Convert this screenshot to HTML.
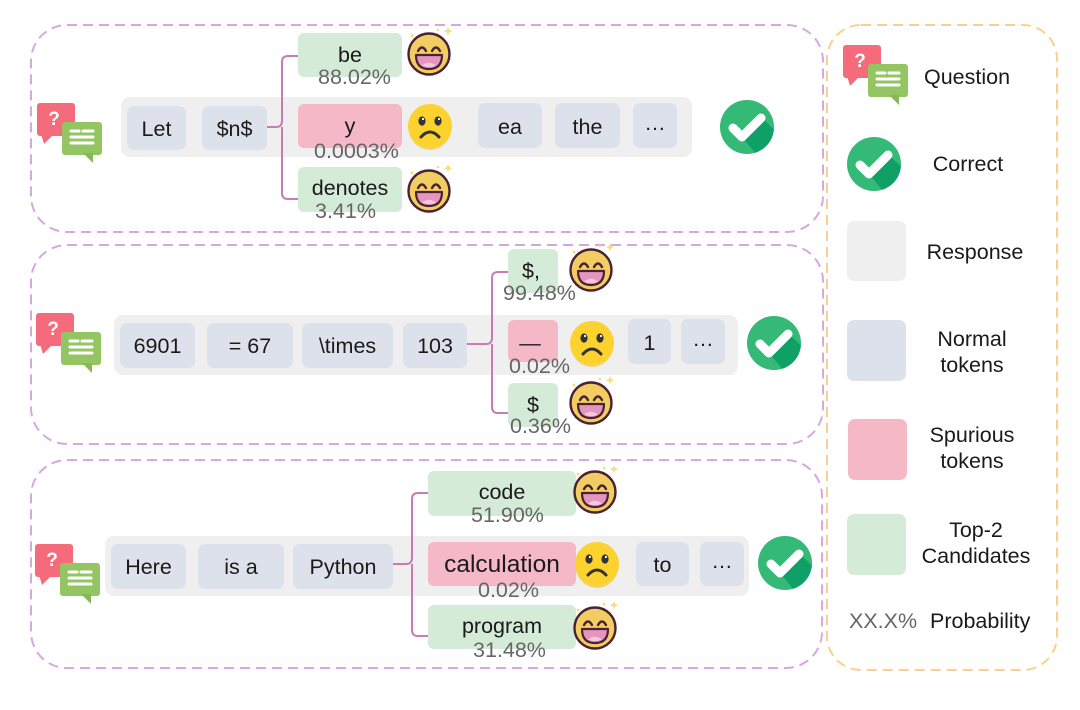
<!DOCTYPE html>
<html><head><meta charset="utf-8"><style>
html,body{margin:0;padding:0;background:#fff;}
svg{display:block;}
text{font-family:"Liberation Sans",Arial,sans-serif;}
.tk{font-size:21.5px;fill:#1a1a1a;text-anchor:middle;}
.pc{font-size:21.5px;fill:#666;}
.lg{font-size:21.5px;fill:#1a1a1a;text-anchor:middle;}
</style></head><body>
<svg width="1080" height="710" viewBox="0 0 1080 710" xmlns="http://www.w3.org/2000/svg">
<defs>
  <g id="happy">
    <path d="M19,-27 l1.2,3 3,1.2 -3,1.2 -1.2,3 -1.2,-3 -3,-1.2 3,-1.2z" fill="#f6dc7a"/>
    <circle cx="-17" cy="-18" r="1.5" fill="#f6dc7a"/>
    <circle cx="9" cy="-24" r="1.3" fill="#f6dc7a"/>
    <circle cx="0" cy="0" r="20.5" fill="#f1cd62" stroke="#4a2233" stroke-width="2.4"/>
    <path d="M-11,-3 Q-7,-10 -3,-3 M3,-3 Q7,-10 11,-3" fill="none" stroke="#4a2233" stroke-width="2.4" stroke-linecap="round"/>
    <path d="M-13,1 H13 Q13,15 0,15 Q-13,15 -13,1 Z" fill="#e596c0" stroke="#4a2233" stroke-width="2.2" stroke-linejoin="round"/>
    <path d="M-7,11.5 Q0,6 7,11.5 Q0,15 -7,11.5Z" fill="#f6c6dc"/>
  </g>
  <g id="sad">
    <circle cx="0" cy="0" r="22" fill="#fcd22f"/>
    <path d="M-22,0 A22,22 0 0 0 22,0 A22,24 0 0 1 -22,0Z" fill="#f2c21e" opacity="0.6"/>
    <ellipse cx="-8" cy="-5" rx="3.6" ry="4.6" fill="#333"/>
    <ellipse cx="8" cy="-5" rx="3.6" ry="4.6" fill="#333"/>
    <circle cx="-7" cy="-7" r="1.1" fill="#fff"/>
    <circle cx="9" cy="-7" r="1.1" fill="#fff"/>
    <path d="M-9,11 Q0,1 9,11" fill="none" stroke="#333" stroke-width="3" stroke-linecap="round"/>
  </g>
  <clipPath id="cc"><circle cx="0" cy="0" r="27"/></clipPath>
  <g id="check">
    <circle cx="0" cy="0" r="27" fill="#35b977"/>
    <polygon points="-5,10 15,-9 45,20 20,40" fill="#0fa068" clip-path="url(#cc)"/>
    <polyline points="-14,1 -5,10 14,-9" fill="none" stroke="#fff" stroke-width="9" stroke-linecap="round" stroke-linejoin="round"/>
  </g>
  <g id="qicon">
    <rect x="0" y="0" width="38" height="33" rx="3" fill="#f66b7b"/>
    <polygon points="4,31 7,41 17,31" fill="#f66b7b"/>
    <text x="17" y="22" font-size="19" font-weight="bold" fill="#fff" text-anchor="middle">?</text>
    <rect x="25" y="19" width="40" height="33" rx="3" fill="#93c563"/>
    <polygon points="46,50 56,60 56,50" fill="#86b857"/>
    <path d="M34,28 H42 M46,28 H56 M34,34 H56 M34,40 H56" stroke="#fff" stroke-width="3" stroke-linecap="round"/>
  </g>
</defs>

<!-- panels -->
<g fill="none" stroke="#d6a8df" stroke-width="2" stroke-dasharray="10 6">
  <rect x="31" y="25" width="792" height="207" rx="36"/>
  <rect x="31" y="245" width="792" height="199" rx="36"/>
  <rect x="31" y="460" width="791" height="208" rx="36"/>
</g>
<rect x="827" y="25" width="230" height="645" rx="34" fill="none" stroke="#fbd08b" stroke-width="2" stroke-dasharray="10 6"/>

<!-- ================= Panel 1 ================= -->
<use href="#qicon" x="37" y="103"/>
<rect x="121" y="97" width="571" height="60" rx="9" fill="#efefef"/>
<rect x="127" y="106" width="59" height="44" rx="7" fill="#dde1eb"/>
<text class="tk" x="156.5" y="136">Let</text>
<rect x="202" y="106" width="65" height="44" rx="7" fill="#dde1eb"/>
<text class="tk" x="234.5" y="136">$n$</text>
<path d="M267,127 H276 Q282,127 282,121 V62 Q282,56 288,56 H298 M282,127 V193 Q282,199 288,199 H298" fill="none" stroke="#c97cb4" stroke-width="2"/>
<rect x="298" y="33" width="104" height="44" rx="6" fill="#d3ebd7"/>
<text class="tk" x="350" y="62">be</text>
<text class="pc" x="318" y="84">88.02%</text>
<rect x="298" y="104" width="104" height="44" rx="6" fill="#f5b8c6"/>
<text class="tk" x="350" y="133">y</text>
<text class="pc" x="314" y="158">0.0003%</text>
<rect x="298" y="167" width="104" height="45" rx="6" fill="#d3ebd7"/>
<text class="tk" x="350" y="195">denotes</text>
<text class="pc" x="315" y="218">3.41%</text>
<use href="#happy" x="429" y="54"/>
<use href="#sad" x="430" y="126"/>
<use href="#happy" x="429" y="191"/>
<rect x="478" y="103" width="64" height="45" rx="7" fill="#dde1eb"/>
<text class="tk" x="510" y="134">ea</text>
<rect x="555" y="103" width="65" height="45" rx="7" fill="#dde1eb"/>
<text class="tk" x="587.5" y="134">the</text>
<rect x="633" y="103" width="44" height="45" rx="7" fill="#dde1eb"/>
<text class="tk" x="655" y="130">…</text>
<use href="#check" x="747" y="127"/>

<!-- ================= Panel 2 ================= -->
<use href="#qicon" x="36" y="313"/>
<rect x="114" y="315" width="624" height="60" rx="9" fill="#efefef"/>
<rect x="120" y="323" width="75" height="45" rx="7" fill="#dde1eb"/>
<text class="tk" x="157.5" y="353">6901</text>
<rect x="207" y="323" width="86" height="45" rx="7" fill="#dde1eb"/>
<text class="tk" x="250" y="353">= 67</text>
<rect x="302" y="323" width="91" height="45" rx="7" fill="#dde1eb"/>
<text class="tk" x="347.5" y="353">\times</text>
<rect x="403" y="323" width="64" height="45" rx="7" fill="#dde1eb"/>
<text class="tk" x="435" y="353">103</text>
<path d="M467,344 H486 Q492,344 492,338 V278 Q492,272 498,272 H508 M492,344 V407 Q492,413 498,413 H508" fill="none" stroke="#c97cb4" stroke-width="2"/>
<rect x="508" y="249" width="50" height="44" rx="6" fill="#d3ebd7"/>
<text class="tk" x="531" y="278">$,</text>
<text class="pc" x="503" y="300">99.48%</text>
<rect x="508" y="320" width="50" height="42" rx="6" fill="#f5b8c6"/>
<text class="tk" x="530" y="350">—</text>
<text class="pc" x="509" y="373">0.02%</text>
<rect x="508" y="383" width="50" height="44" rx="6" fill="#d3ebd7"/>
<text class="tk" x="533" y="412">$</text>
<text class="pc" x="510" y="433">0.36%</text>
<use href="#happy" x="591" y="270"/>
<use href="#sad" x="592" y="343"/>
<use href="#happy" x="591" y="403"/>
<rect x="628" y="319" width="43" height="45" rx="7" fill="#dde1eb"/>
<text class="tk" x="649.5" y="350">1</text>
<rect x="681" y="319" width="44" height="45" rx="7" fill="#dde1eb"/>
<text class="tk" x="703" y="346">…</text>
<use href="#check" x="774" y="343"/>

<!-- ================= Panel 3 ================= -->
<use href="#qicon" x="35" y="544"/>
<rect x="105" y="536" width="644" height="60" rx="9" fill="#efefef"/>
<rect x="111" y="544" width="75" height="45" rx="7" fill="#dde1eb"/>
<text class="tk" x="148.5" y="574">Here</text>
<rect x="198" y="544" width="86" height="45" rx="7" fill="#dde1eb"/>
<text class="tk" x="241" y="574">is a</text>
<rect x="293" y="544" width="100" height="45" rx="7" fill="#dde1eb"/>
<text class="tk" x="343" y="574">Python</text>
<path d="M393,564 H406 Q412,564 412,558 V499 Q412,493 418,493 H428 M412,564 V630 Q412,636 418,636 H428" fill="none" stroke="#c97cb4" stroke-width="2"/>
<rect x="428" y="471" width="148" height="45" rx="6" fill="#d3ebd7"/>
<text class="tk" x="502" y="499">code</text>
<text class="pc" x="471" y="522">51.90%</text>
<rect x="428" y="542" width="148" height="44" rx="6" fill="#f5b8c6"/>
<text class="tk" x="502" y="572" style="font-size:24.5px">calculation</text>
<text class="pc" x="478" y="597">0.02%</text>
<rect x="428" y="605" width="148" height="44" rx="6" fill="#d3ebd7"/>
<text class="tk" x="502" y="633">program</text>
<text class="pc" x="473" y="657">31.48%</text>
<use href="#happy" x="595" y="492"/>
<use href="#sad" x="597" y="564"/>
<use href="#happy" x="595" y="628"/>
<rect x="636" y="542" width="53" height="44" rx="7" fill="#dde1eb"/>
<text class="tk" x="662.5" y="572">to</text>
<rect x="700" y="542" width="44" height="44" rx="7" fill="#dde1eb"/>
<text class="tk" x="722" y="568">…</text>
<use href="#check" x="785" y="563"/>

<!-- ================= Legend ================= -->
<use href="#qicon" x="843" y="45"/>
<text class="lg" x="967" y="84">Question</text>
<use href="#check" x="874" y="164"/>
<text class="lg" x="968" y="171">Correct</text>
<rect x="847" y="221" width="59" height="60" rx="7" fill="#efefef"/>
<text class="lg" x="975" y="259">Response</text>
<rect x="847" y="320" width="59" height="61" rx="7" fill="#dde1eb"/>
<text class="lg" x="972" y="346">Normal</text>
<text class="lg" x="972" y="372">tokens</text>
<rect x="848" y="419" width="59" height="61" rx="7" fill="#f5b8c6"/>
<text class="lg" x="972" y="442">Spurious</text>
<text class="lg" x="972" y="468">tokens</text>
<rect x="847" y="514" width="59" height="61" rx="7" fill="#d3ebd7"/>
<text class="lg" x="976" y="537">Top-2</text>
<text class="lg" x="976" y="563">Candidates</text>
<text x="849" y="628" style="font-size:21.5px;fill:#666">XX.X%</text>
<text x="930" y="628" style="font-size:21.5px;fill:#1a1a1a">Probability</text>
</svg>
</body></html>
